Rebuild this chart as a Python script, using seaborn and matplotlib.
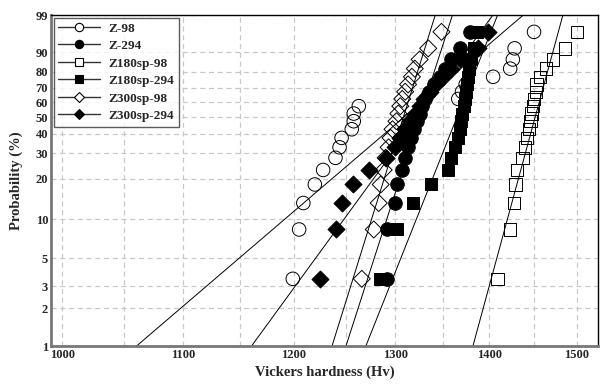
import numpy as np
import pandas as pd
import matplotlib
matplotlib.use("Agg")
import matplotlib.pyplot as plt
import seaborn as sns
from matplotlib.lines import Line2D
from matplotlib.ticker import FixedLocator, NullFormatter, FixedFormatter

# ---------------- data ----------------
series = ["Z-98", "Z-294", "Z180sp-98", "Z180sp-294", "Z300sp-98", "Z300sp-294"]
n_points = 20
# cumulative probability (median rank) in %
prob = [(i - 0.3) / (n_points + 0.4) * 100 for i in range(1, n_points + 1)]

z_98 = [1199, 1205, 1209, 1220, 1228, 1240, 1244, 1246, 1256, 1258,
        1258, 1263, 1366, 1370, 1374, 1404, 1423, 1426, 1428, 1450]
z_294 = [1291, 1291, 1300, 1302, 1307, 1310, 1313, 1316, 1319, 1322,
         1325, 1328, 1331, 1335, 1340, 1346, 1352, 1358, 1368, 1379]
z180sp_98 = [1409, 1423, 1427, 1429, 1431, 1437, 1440, 1442, 1444, 1446,
             1447, 1449, 1450, 1452, 1453, 1457, 1464, 1472, 1486, 1500]
z180sp_294 = [1284, 1302, 1318, 1337, 1355, 1358, 1362, 1366, 1368, 1369,
              1370, 1372, 1373, 1374, 1375, 1376, 1378, 1380, 1383, 1386]
z300sp_98 = [1266, 1278, 1283, 1285, 1288, 1290, 1293, 1295, 1297, 1301,
             1303, 1305, 1307, 1310, 1313, 1317, 1320, 1325, 1334, 1348]
z300sp_294 = [1225, 1241, 1246, 1257, 1273, 1290, 1300, 1305, 1310, 1315,
              1320, 1325, 1330, 1336, 1342, 1350, 1358, 1368, 1387, 1398]

# Weibull fit lines: modulus and scale (Hv)
moduli = [20.1, 73.0, 86.4, 59.0, 75.3, 32.2]
scales = [1332.6, 1331.6, 1457.4, 1373.0, 1314.5, 1338.8]

y_ticks = [1, 2, 3, 5, 10, 20, 30, 40, 50, 60, 70, 80, 90, 99]
x_major = [1000, 1100, 1200, 1300, 1400, 1500]
x_minor = [1050, 1150, 1250, 1350, 1450]

values = [z_98, z_294, z180sp_98, z180sp_294, z300sp_98, z300sp_294]
markers = ["o", "o", "s", "s", "D", "D"]
filled = [False, True, False, True, False, True]
msizes = [95, 95, 80, 80, 75, 75]

# ---------------- figure ----------------
sns.set_theme(style="white")
plt.rcParams["font.family"] = ["Liberation Serif", "DejaVu Serif"]
plt.rcParams["font.weight"] = "bold"

fig = plt.figure(figsize=(6.0, 3.85), dpi=100)
ax = fig.add_axes([0.085, 0.101, 0.9117, 0.860])

def fwd(p):
    p = np.clip(np.asarray(p, dtype=float), 1e-6, 100 - 1e-6)
    return np.log(-np.log(1 - p / 100.0))

def inv(y):
    return (1 - np.exp(-np.exp(y))) * 100.0

ax.set_yscale("function", functions=(fwd, inv))
ax.set_xscale("log")

# fitted lines
pp = np.linspace(0.5, 99.5, 400)
for name, m, s in zip(series, moduli, scales):
    xx = s * (-np.log(1 - pp / 100.0)) ** (1.0 / m)
    df = pd.DataFrame({"x": xx, "p": pp})
    sns.lineplot(data=df, x="x", y="p", ax=ax, color="black", lw=0.7,
                 sort=False, estimator=None, zorder=2)

# data points
for name, v, mk, fl, ms in zip(series, values, markers, filled, msizes):
    df = pd.DataFrame({"x": v, "p": prob})
    sns.scatterplot(data=df, x="x", y="p", ax=ax, marker=mk, s=ms,
                    facecolor="black" if fl else "none",
                    edgecolor="black", linewidth=0.7, zorder=3)

ax.set_xlim(991, 1525)
ax.set_ylim(1, 99)

ax.xaxis.set_major_locator(FixedLocator(x_major))
ax.xaxis.set_major_formatter(FixedFormatter([str(v) for v in x_major]))
ax.xaxis.set_minor_locator(FixedLocator(x_minor))
ax.xaxis.set_minor_formatter(NullFormatter())
ax.yaxis.set_major_locator(FixedLocator(y_ticks))
ax.yaxis.set_major_formatter(FixedFormatter([str(v) for v in y_ticks]))
ax.yaxis.set_minor_locator(FixedLocator([]))

ax.grid(True, which="both", axis="x", color="#c8c8c8", linestyle=(0, (4, 3)), lw=0.9)
ax.grid(True, which="major", axis="y", color="#c8c8c8", linestyle=(0, (4, 3)), lw=0.9)
ax.set_axisbelow(True)

ax.tick_params(axis="both", which="major", direction="in", length=4, width=1,
               color="#333333", labelsize=9, pad=2)
ax.tick_params(axis="x", which="minor", length=0)
for lab in ax.get_xticklabels() + ax.get_yticklabels():
    lab.set_fontweight("bold")

for side in ["left", "bottom"]:
    ax.spines[side].set_color("#777777")
    ax.spines[side].set_linewidth(2.0)
for side in ["top", "right"]:
    ax.spines[side].set_color("black")
    ax.spines[side].set_linewidth(1.0)

ax.set_xlabel("Vickers hardness (Hv)", fontsize=10.5, fontweight="bold", labelpad=3)
ax.set_ylabel("Probability (%)", fontsize=10.5, fontweight="bold", labelpad=9)

handles = []
for name, mk, fl in zip(series, markers, filled):
    handles.append(Line2D([0], [0], color="#333333", lw=1.0, marker=mk,
                          markersize=6 if mk != "D" else 5,
                          markerfacecolor="black" if fl else "white",
                          markeredgecolor="black", markeredgewidth=0.8,
                          label=name))
leg = ax.legend(handles=handles, loc="upper left", bbox_to_anchor=(0.0, 1.0),
                frameon=True, fancybox=False, edgecolor="#333333",
                prop={"family": "Liberation Serif", "weight": "bold", "size": 9.5},
                handlelength=3.2, handletextpad=0.6, labelspacing=0.4,
                borderpad=0.35, borderaxespad=0.2)
leg.get_frame().set_linewidth(1.0)

fig.savefig("out.png", dpi=100)
